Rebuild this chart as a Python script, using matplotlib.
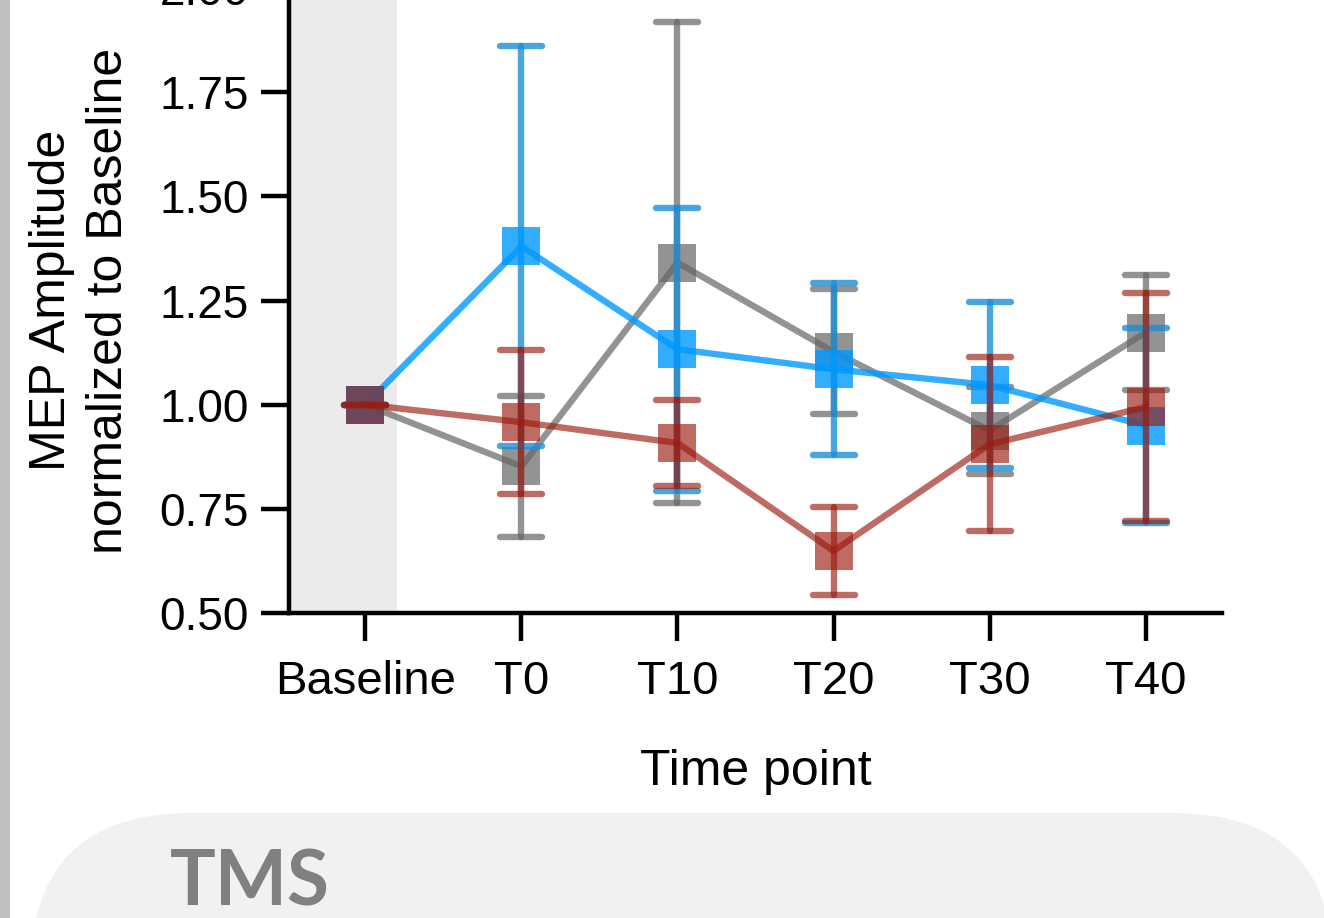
import matplotlib
matplotlib.use('Agg')
import matplotlib.pyplot as plt
from matplotlib.patches import FancyBboxPatch, Rectangle
from matplotlib.markers import MarkerStyle
import numpy as np

plt.rcParams['font.family'] = ['Liberation Sans', 'DejaVu Sans']

# data
time_points = ['Baseline', 'T0', 'T10', 'T20', 'T30', 'T40']

blue_mean = [1.00, 1.38, 1.133, 1.085, 1.047, 0.95]
blue_err = [0.0, 0.48, 0.34, 0.206, 0.20, 0.234]

gray_mean = [1.00, 0.852, 1.341, 1.127, 0.938, 1.173]
gray_err = [0.0, 0.17, 0.577, 0.15, 0.104, 0.138]

red_mean = [1.00, 0.958, 0.908, 0.649, 0.905, 0.994]
red_err = [0.0, 0.173, 0.103, 0.105, 0.209, 0.274]

y_ticks = [0.50, 0.75, 1.00, 1.25, 1.50, 1.75, 2.00]

x = np.arange(len(time_points))

# figure
fig = plt.figure(figsize=(13.24, 9.18), dpi=100)

# page decoration behind the chart
fig.patches.append(Rectangle((0, 0), 10, 918, transform=None,
                             facecolor='#c0c0c0', edgecolor='none', zorder=0))
fig.patches.append(FancyBboxPatch((30, -300), 1304, 405, transform=None,
                                  boxstyle='round,pad=0,rounding_size=161',
                                  facecolor='#f1f1f1', edgecolor='none', zorder=0))
fig.text(170 / 1324, (918 - 905) / 918, 'TMS', family=['Lato', 'DejaVu Sans'],
         fontweight='bold', fontsize=55, color='#808080', ha='left', va='baseline')

ax = fig.add_axes([289 / 1324, 1 - 613 / 918, (1222 - 289) / 1324, 625 / 918])
ax.patch.set_alpha(0)

ax.axvspan(-0.49, 0.205, color='#ebebeb', lw=0, zorder=0)

series = [
    (gray_mean, gray_err, '#666666', '#666666', 0.7, 2),
    (blue_mean, blue_err, '#0099ff', '#1a8fd9', 0.8, 3),
    (red_mean, red_err, '#9b1c10', '#9b1c10', 0.65, 4),
]
for mean, err, col, ecol, a, z in series:
    line, caps, bars = ax.errorbar(x, mean, yerr=err, fmt='s-', color=col, ecolor=ecol,
                                   alpha=a, zorder=z, markersize=28,
                                   lw=4.6, elinewidth=4.6, capsize=15, capthick=4.6)
    line.set_markeredgewidth(0)
    for c in caps:
        c.set_marker(MarkerStyle('_', capstyle='round'))
        c.set_markeredgewidth(4.6)
    for b in bars:
        b.set_capstyle('round')

ax.set_xlim(-0.49, 5.49)
ax.set_ylim(0.5, 2.0)
ax.set_yticks(y_ticks)
ax.set_yticklabels(['%.2f' % v for v in y_ticks])
ax.set_xticks(x)
ax.set_xticklabels(time_points)

ax.spines['right'].set_color('none')
ax.spines['top'].set_color('none')
for s in ['left', 'bottom']:
    ax.spines[s].set_linewidth(3.2)
ax.tick_params(axis='both', length=20, width=3.2, labelsize=33, direction='out')
ax.tick_params(axis='y', pad=9)
ax.tick_params(axis='x', labelsize=34, pad=14)

ax.set_xlabel('Time point', fontsize=36, labelpad=32)
ax.set_ylabel('MEP Amplitude\nnormalized to Baseline', fontsize=36,
              linespacing=1.3, labelpad=20)

fig.savefig('out.png', dpi=100)
